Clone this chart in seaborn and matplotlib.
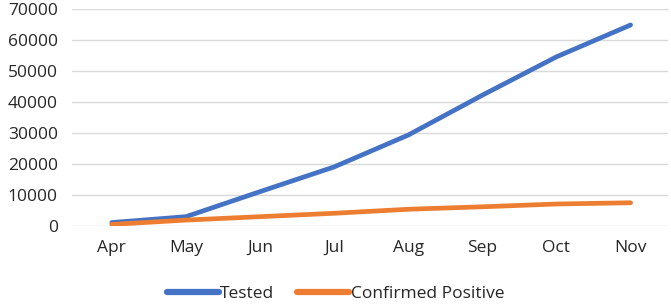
import pandas as pd
import seaborn as sns
from matplotlib import pyplot as plt

months = ["Apr", "May", "Jun", "Jul", "Aug", "Sep", "Oct", "Nov"]
tested = [1000, 2900, 11000, 19000, 29300, 42200, 54600, 64900]
confirmed = [400, 1800, 2900, 4000, 5300, 6100, 7000, 7400]

df = pd.DataFrame(
    {
        "Month": months * 2,
        "Count": tested + confirmed,
        "Series": ["Tested"] * len(months) + ["Confirmed Positive"] * len(months),
    }
)

sns.set_theme(style="white")
plt.rcParams["font.family"] = ["Open Sans", "DejaVu Sans"]

fig, ax = plt.subplots(figsize=(6.71, 3.07), dpi=100)
fig.subplots_adjust(left=0.107, right=0.995, top=0.97, bottom=0.265)

sns.lineplot(
    data=df,
    x="Month",
    y="Count",
    hue="Series",
    palette=["#4472C4", "#ED7D31"],
    linewidth=3.4,
    solid_capstyle="round",
    ax=ax,
    legend=False,
)

ax.set_ylim(0, 70000)
ax.set_yticks(range(0, 70001, 10000))
ax.set_xlim(-0.54, 7.5)
ax.grid(axis="y", color="#D9D9D9", linewidth=1)
ax.set_axisbelow(True)
sns.despine(ax=ax, left=True, bottom=True)
ax.set_xlabel("")
ax.set_ylabel("")
ax.tick_params(axis="both", labelsize=12.5, colors="#262626", length=0)
ax.tick_params(axis="y", pad=10)
ax.tick_params(axis="x", pad=10)

handles = [
    plt.Line2D([], [], color="#4472C4", linewidth=4.5, solid_capstyle="round"),
    plt.Line2D([], [], color="#ED7D31", linewidth=4.5, solid_capstyle="round"),
]
fig.legend(
    handles,
    ["Tested", "Confirmed Positive"],
    loc="lower center",
    bbox_to_anchor=(0.5, -0.035),
    ncol=2,
    frameon=False,
    fontsize=12.5,
    handlelength=3.0,
    handletextpad=0.1,
    columnspacing=1.3,
    labelcolor="#262626",
)

plt.savefig("out.png", dpi=100)
plt.close()
